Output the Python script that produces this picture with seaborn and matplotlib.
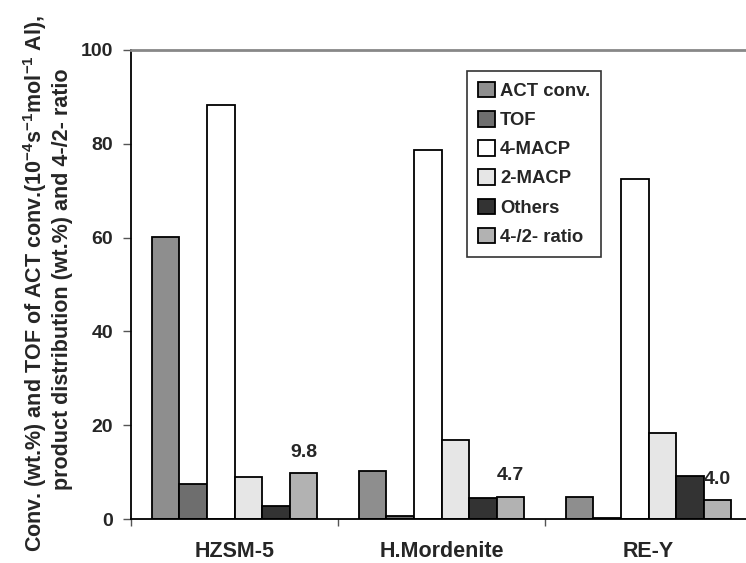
import matplotlib
matplotlib.use("Agg")
import matplotlib.pyplot as plt
import seaborn as sns
import pandas as pd
import numpy as np

catalysts = ["HZSM-5", "H.Mordenite", "RE-Y"]
series = ["ACT conv.", "TOF", "4-MACP", "2-MACP", "Others", "4-/2- ratio"]
act_conv = [60.2, 10.3, 4.6]
tof = [7.5, 0.7, 0.3]
macp4 = [88.3, 78.7, 72.5]
macp2 = [9.0, 16.8, 18.4]
others = [2.7, 4.5, 9.1]
ratio = [9.8, 4.7, 4.0]
colors = ["#8e8e8e", "#6e6e6e", "#ffffff", "#e6e6e6", "#333333", "#b2b2b2"]

values = [act_conv, tof, macp4, macp2, others, ratio]
rows = []
for s, vals in zip(series, values):
    for c, v in zip(catalysts, vals):
        rows.append({"cat": c, "series": s, "val": v})
df = pd.DataFrame(rows)

sns.set_style("white")
plt.rcParams["font.family"] = ["Liberation Sans", "DejaVu Sans"]
plt.rcParams["font.weight"] = "bold"
plt.rcParams["mathtext.fontset"] = "custom"
plt.rcParams["mathtext.rm"] = "Liberation Sans:bold"
plt.rcParams["mathtext.bf"] = "Liberation Sans:bold"
plt.rcParams["mathtext.default"] = "bf"

fig = plt.figure(figsize=(7.46, 5.63), dpi=100)
ax = fig.add_axes([131/746, 44/563, 621/746, 469/563])

sns.barplot(data=df, x="cat", y="val", hue="series", order=catalysts,
            hue_order=series, palette=colors, saturation=1, width=0.8,
            edgecolor="black", linewidth=1.3, ax=ax)

ax.set_xlim(-0.5, 2.5)
ax.set_ylim(0, 100)
ax.set_yticks([0, 20, 40, 60, 80, 100])
ax.tick_params(axis="y", which="major", direction="out", length=6, width=1,
               pad=7, labelsize=14, left=True, color="#555555")
ax.set_xticks([-0.5, 0.5, 1.5, 2.5])
ax.set_xticklabels([])
ax.set_xticks([0, 1, 2], minor=True)
ax.set_xticklabels(catalysts, minor=True, fontsize=15.5, fontweight="bold")
ax.tick_params(axis="x", which="major", direction="out", length=5, width=1,
               bottom=True, color="#555555")
ax.tick_params(axis="x", which="minor", length=0, pad=16)
ax.set_xlabel("")
ax.set_ylabel("")
for lab in ax.get_yticklabels():
    lab.set_fontweight("bold")

for side in ["left", "bottom"]:
    ax.spines[side].set_color("black")
    ax.spines[side].set_linewidth(1.3)
ax.spines["top"].set_color("#888888")
ax.spines["top"].set_linewidth(2)
ax.spines["right"].set_visible(False)

# value labels for ratio bars
ratio_container = ax.containers[-1]
ax.bar_label(ratio_container, labels=[f"{v:.1f}" for v in ratio],
             padding=9, fontsize=14, fontweight="bold")

handles, labels = ax.get_legend_handles_labels()
if ax.get_legend() is not None:
    ax.get_legend().remove()
leg = fig.legend(handles, labels, loc="upper left",
                 bbox_to_anchor=(467/746, 1 - 71/563), frameon=True,
                 fancybox=False, edgecolor="#333333", framealpha=1,
                 fontsize=13.3, handlelength=0.9, handleheight=0.9,
                 handletextpad=0.3, labelspacing=0.6, borderpad=0.6,
                 borderaxespad=0)
leg.get_frame().set_linewidth(1.2)
for t in leg.get_texts():
    t.set_fontweight("bold")

fig.text(35/746, 1 - 283/563,
         r"Conv. (wt.%) and TOF of ACT conv.(10$^{-4}$s$^{-1}$mol$^{-1}$ Al),",
         rotation=90, ha="center", va="center", fontsize=15.5, fontweight="bold")
fig.text(63/746, 1 - 279/563,
         "product distribution (wt.%) and 4-/2- ratio",
         rotation=90, ha="center", va="center", fontsize=15.5, fontweight="bold")

fig.savefig("out.png", dpi=100)
